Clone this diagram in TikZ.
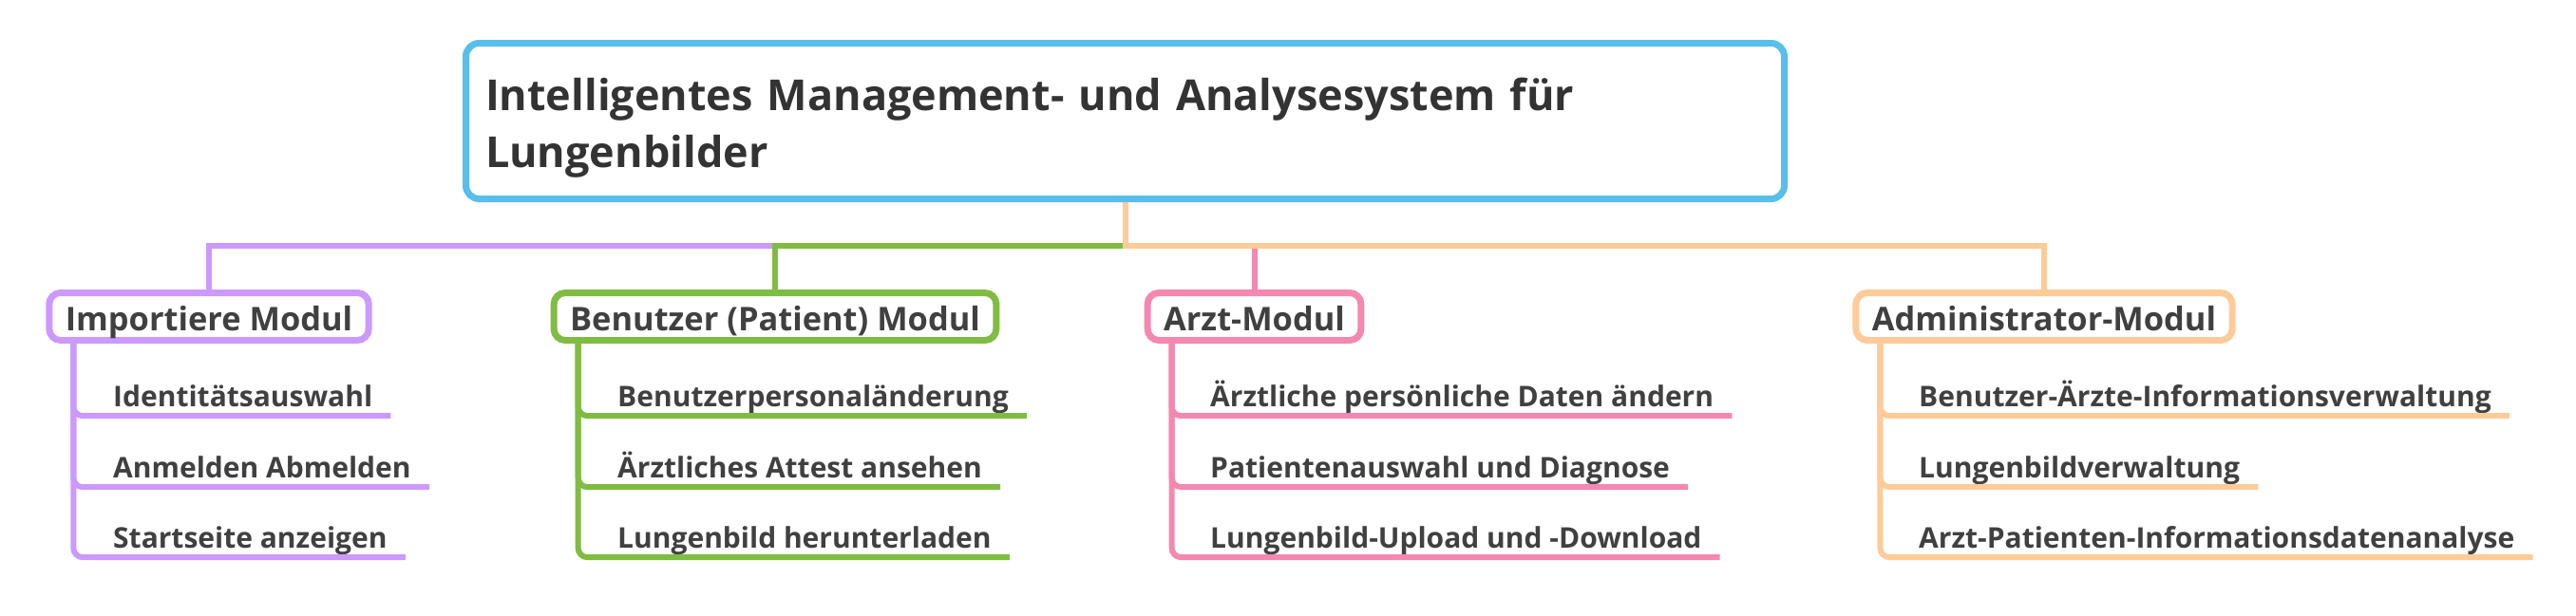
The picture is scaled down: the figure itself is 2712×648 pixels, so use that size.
\documentclass[tikz,border=0pt]{standalone}
\usepackage{fontspec}
\setmainfont{Open Sans}
\usetikzlibrary{positioning}
\definecolor{mmblue}{RGB}{88,190,236}
\definecolor{mmpurple}{RGB}{204,153,255}
\definecolor{mmgreen}{RGB}{128,188,66}
\definecolor{mmpink}{RGB}{244,136,176}
\definecolor{mmpeach}{RGB}{255,203,153}
\definecolor{mmtext}{RGB}{64,64,64}
\definecolor{mmtitle}{RGB}{51,51,51}

\begin{document}
\begin{tikzpicture}[x=1pt, y=-1pt,
  topic/.style={draw=mmblue, line width=7pt, rounded corners=14pt, fill=white,
    minimum width=1388pt, minimum height=164pt, text width=1347pt, inner xsep=20.5pt,
    align=left, text=mmtitle, font=\bfseries\fontsize{45}{60}\selectfont},
  module/.style={draw, line width=7pt, rounded corners=12pt, fill=white, anchor=base,
    inner xsep=17pt, inner ysep=5pt, text height=34.5pt, text depth=5.5pt,
    text=mmtext, font=\bfseries\fontsize{34.4}{40}\selectfont},
  leaf/.style={anchor=base west, inner xsep=19pt, inner ysep=0pt, text depth=10pt,
    text=mmtext, font=\bfseries\fontsize{30}{36}\selectfont},
  link/.style={line width=6pt},
  twig/.style={line width=6pt, rounded corners=10pt}]
\useasboundingbox (0,0) rectangle (2712,648);
% Centre topic
\node[topic] (root) at (1184.5,127.5)
  {\rule{0pt}{48pt}Intelligentes Management- und Analysesystem für\\Lungenbilder};
\coordinate (bus) at (0,259);
% Modules
\node[module, draw=mmpurple] (imp) at (220,348) {Importiere Modul};
\node[module, draw=mmgreen] (ben) at (816,348) {Benutzer (Patient) Modul};
\node[module, draw=mmpink] (arzt) at (1320.5,348) {Arzt-Modul};
\node[module, draw=mmpeach] (adm) at (2152,348) {Administrator-Modul};
\draw[link, mmpurple] (root.south) -- (root.south |- bus) -| (imp.north);
\draw[link, mmgreen] (root.south) -- (root.south |- bus) -| (ben.north);
\draw[link, mmpink] (root.south) -- (root.south |- bus) -| (arzt.north);
\draw[link, mmpeach] (root.south) -- (root.south |- bus) -| (adm.north);
% Importiere Modul
\node[leaf] (imp1) at (100,428) {Identitätsauswahl};
\node[leaf] (imp2) at (100,503) {Anmelden Abmelden};
\node[leaf] (imp3) at (100,577) {Startseite anzeigen};
\draw[twig, mmpurple] ([xshift=29pt]imp.south west) |- (imp1.south east);
\draw[twig, mmpurple] ([xshift=29pt]imp.south west) |- (imp2.south east);
\draw[twig, mmpurple] ([xshift=29pt]imp.south west) |- (imp3.south east);
% Benutzer (Patient) Modul
\node[leaf] (ben1) at (631,428) {Benutzerpersonaländerung};
\node[leaf] (ben2) at (631,503) {Ärztliches Attest ansehen};
\node[leaf] (ben3) at (631,577) {Lungenbild herunterladen};
\draw[twig, mmgreen] ([xshift=29pt]ben.south west) |- (ben1.south east);
\draw[twig, mmgreen] ([xshift=29pt]ben.south west) |- (ben2.south east);
\draw[twig, mmgreen] ([xshift=29pt]ben.south west) |- (ben3.south east);
% Arzt-Modul
\node[leaf] (arzt1) at (1255,428) {Ärztliche persönliche Daten ändern};
\node[leaf] (arzt2) at (1255,503) {Patientenauswahl und Diagnose};
\node[leaf] (arzt3) at (1255,577) {Lungenbild-Upload und -Download};
\draw[twig, mmpink] ([xshift=29pt]arzt.south west) |- (arzt1.south east);
\draw[twig, mmpink] ([xshift=29pt]arzt.south west) |- (arzt2.south east);
\draw[twig, mmpink] ([xshift=29pt]arzt.south west) |- (arzt3.south east);
% Administrator-Modul
\node[leaf] (adm1) at (2001,428) {Benutzer-Ärzte-Informationsverwaltung};
\node[leaf] (adm2) at (2001,503) {Lungenbildverwaltung};
\node[leaf] (adm3) at (2001,577) {Arzt-Patienten-Informationsdatenanalyse};
\draw[twig, mmpeach] ([xshift=29pt]adm.south west) |- (adm1.south east);
\draw[twig, mmpeach] ([xshift=29pt]adm.south west) |- (adm2.south east);
\draw[twig, mmpeach] ([xshift=29pt]adm.south west) |- (adm3.south east);
\end{tikzpicture}
\end{document}
